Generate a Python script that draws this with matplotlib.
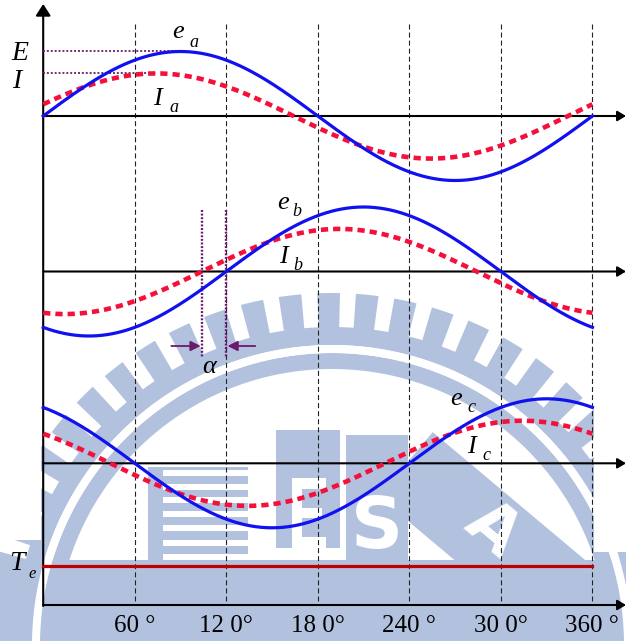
import numpy as np
import matplotlib
matplotlib.use("Agg")
import matplotlib.pyplot as plt
from matplotlib.patches import Polygon, Rectangle
from matplotlib import transforms

plt.rcParams["lines.scale_dashes"] = False

# ---------------- data ----------------
theta = np.linspace(0, 360, 721)          # electrical angle, degrees
phase_names = ["a", "b", "c"]
phase_shift = [0, 120, 240]               # phase displacement, degrees
E_peak = 1.0                              # back-EMF amplitude (p.u.)
I_peak = 0.66                             # phase current amplitude (p.u.)
alpha = 16                                # current lead angle, degrees
Te_level = 1.0                            # constant electromagnetic torque (p.u.)
tick_deg = [60, 120, 180, 240, 300, 360]
tick_labels = ["60 °", "12 0°", "18 0°", "240 °", "30 0°", "360 °"]

# ---------------- layout (pixels) ----------------
W, H, DPI = 626, 641, 100
X0 = 43.2            # pixel column of 0 deg
PPD = 1.5256         # pixels per degree
XLIM = (-X0 / PPD, (W - X0) / PPD)
baselines = [116.0, 271.5, 463.3]
unit_px = 64.5       # pixels per p.u. in the phase panels
axis_bottom = 605.0
te_unit_px = 39.3

BLUE = "#1010f0"
RED = "#f5103c"
DARKRED = "#c00000"
PURPLE = "#6a1a6a"
WM = "#b2c2de"
SERIF = "Liberation Serif"

fig = plt.figure(figsize=(W / DPI, H / DPI), dpi=DPI)

# ---------------- background emblem ----------------
bg = fig.add_axes([0, 0, 1, 1])
bg.set_xlim(0, W)
bg.set_ylim(H, 0)
bg.axis("off")
cx, cy = 332.0, 645.0


def ring(r0, r1, a0, a1, color, n=120):
    a = np.radians(np.linspace(a0, a1, n))
    outer = np.c_[cx + r1 * np.cos(a), cy - r1 * np.sin(a)]
    inner = np.c_[cx + r0 * np.cos(a[::-1]), cy - r0 * np.sin(a[::-1])]
    bg.add_patch(Polygon(np.vstack([outer, inner]), closed=True,
                         fc=color, ec="none", zorder=1))


bg.add_patch(Rectangle((0, 560), W, H - 560, fc=WM, ec="none", zorder=0.5))
ring(300, 318, -10, 190, WM)
for a in np.arange(0.5, 182, 6.3):
    ring(316, 352, a, a + 3.7, WM, 10)
ring(276, 292, -10, 190, WM)
ring(292, 300, -10, 190, "white")
# stripe block
bg.add_patch(Rectangle((148, 467), 100, 96, fc=WM, ec="none", zorder=2))
for ys in [473, 487, 500, 514, 528, 543, 557]:
    bg.add_patch(Rectangle((163, ys - 3), 86, 6, fc="white", ec="none", zorder=3))
# E block
bg.add_patch(Rectangle((276, 430), 64, 118, fc=WM, ec="none", zorder=2))
for (x, y, w, h) in [(292, 478, 10, 70), (292, 478, 34, 11), (292, 508, 30, 10), (292, 537, 34, 11)]:
    bg.add_patch(Rectangle((x, y), w, h, fc="white", ec="none", zorder=3))
# S block
bg.add_patch(Rectangle((346, 435), 62, 125, fc=WM, ec="none", zorder=2))
bg.text(377, 548, "S", color="white", fontsize=52, fontweight="bold",
        family="DejaVu Sans", ha="center", va="baseline", zorder=3)
# A band
band = Rectangle((-110, -42), 220, 84, fc=WM, ec="none", zorder=2)
band.set_transform(transforms.Affine2D().rotate_deg(40).translate(490, 535) + bg.transData)
bg.add_patch(band)
bg.text(492, 530, "A", color="white", fontsize=46, fontweight="bold",
        family="DejaVu Sans", ha="center", va="center", rotation=-40, zorder=3)
# plain margins
bg.add_patch(Rectangle((0, 0), 41, 540, fc="white", ec="none", zorder=4))
bg.add_patch(Rectangle((594, 0), W - 594, 552, fc="white", ec="none", zorder=4))

# ---------------- frame overlay (x in degrees, y in pixels) ----------------
ov = fig.add_axes([0, 0, 1, 1])
ov.set_xlim(*XLIM)
ov.set_ylim(H, 0)
ov.axis("off")
ov.patch.set_alpha(0)

for d in tick_deg:
    ov.plot([d, d], [24, axis_bottom], color="#222222", lw=0.8,
            dashes=(3.6, 2.2), zorder=2)

axis_kw = dict(arrowstyle="-|>,head_length=0.5,head_width=0.3", color="black",
               lw=1.5, shrinkA=0, shrinkB=0, mutation_scale=10)
for yb in baselines + [axis_bottom]:
    ov.annotate("", xy=(XLIM[1], yb), xytext=(0, yb), arrowprops=axis_kw, zorder=3)
ov.annotate("", xy=(0, 4), xytext=(0, axis_bottom + 1),
            arrowprops=dict(axis_kw, arrowstyle="-|>,head_length=0.7,head_width=0.45"),
            zorder=3)

for d, lab in zip(tick_deg, tick_labels):
    ov.text(d, 632, lab, family=SERIF, fontsize=18, ha="center", va="baseline")


# ---------------- phase panels ----------------
def panel(base_px, upx, span=110):
    ax = fig.add_axes([0, (H - base_px - span) / H, 1, 2 * span / H])
    ax.set_xlim(*XLIM)
    ax.set_ylim(-span / upx, span / upx)
    ax.axis("off")
    ax.patch.set_alpha(0)
    return ax


panels = []
for name, shift, base in zip(phase_names, phase_shift, baselines):
    ax = panel(base, unit_px)
    e = E_peak * np.sin(np.radians(theta - shift))
    i = I_peak * np.sin(np.radians(theta - shift + alpha))
    ax.plot(theta, i, color=RED, lw=3.3, dashes=(5.2, 3.6), solid_capstyle="butt",
            dash_capstyle="butt", zorder=3)
    ax.plot(theta, e, color=BLUE, lw=2.3, zorder=4)
    panels.append(ax)

# amplitude markers on phase a
pa = panels[0]
pa.plot([0, 90], [E_peak, E_peak], color=PURPLE, lw=1.3, dashes=(1.4, 1.4), zorder=2)
pa.plot([0, 90 - alpha], [I_peak, I_peak], color=PURPLE, lw=1.3, dashes=(1.4, 1.4), zorder=2)

# lead angle marker on phase b
for d in [phase_shift[1] - alpha, phase_shift[1]]:
    ov.plot([d, d], [210, 357], color=PURPLE, lw=1.7, dashes=(1.4, 1.2), zorder=5)
arr_kw = dict(arrowstyle="-|>,head_length=0.6,head_width=0.3", color=PURPLE, lw=1.3,
              shrinkA=0, shrinkB=0, mutation_scale=10)
ov.annotate("", xy=(phase_shift[1] - alpha - 0.8, 346), xytext=(phase_shift[1] - alpha - 20, 346),
            arrowprops=arr_kw, zorder=5)
ov.annotate("", xy=(phase_shift[1] + 0.8, 346), xytext=(phase_shift[1] + 19, 346),
            arrowprops=arr_kw, zorder=5)

# torque
tp = panel(axis_bottom, te_unit_px, span=60)
tp.plot(theta, np.full_like(theta, Te_level), color=DARKRED, lw=2.3, zorder=3)

# ---------------- labels ----------------
def px_text(x, y, s, size, italic=True):
    fig.text(x / W, 1 - y / H, s, family=SERIF, fontsize=size,
             style="italic" if italic else "normal", ha="left", va="baseline")


px_text(11, 59.5, "E", 20)
px_text(12, 87.5, "I", 20)
px_text(172, 38.5, "e", 19)
px_text(189, 47, "a", 13)
px_text(153, 105, "I", 19)
px_text(169, 112, "a", 13)
px_text(277, 209, "e", 19)
px_text(292, 216, "b", 13)
px_text(279, 263, "I", 19)
px_text(293, 270, "b", 13)
px_text(450, 405, "e", 19)
px_text(467, 412, "c", 13)
px_text(467, 453, "I", 19)
px_text(482, 460, "c", 13)
px_text(202, 373, "α", 19)
px_text(9, 570, "T", 20)
px_text(28, 578, "e", 12)

fig.savefig("out.png", dpi=DPI)
